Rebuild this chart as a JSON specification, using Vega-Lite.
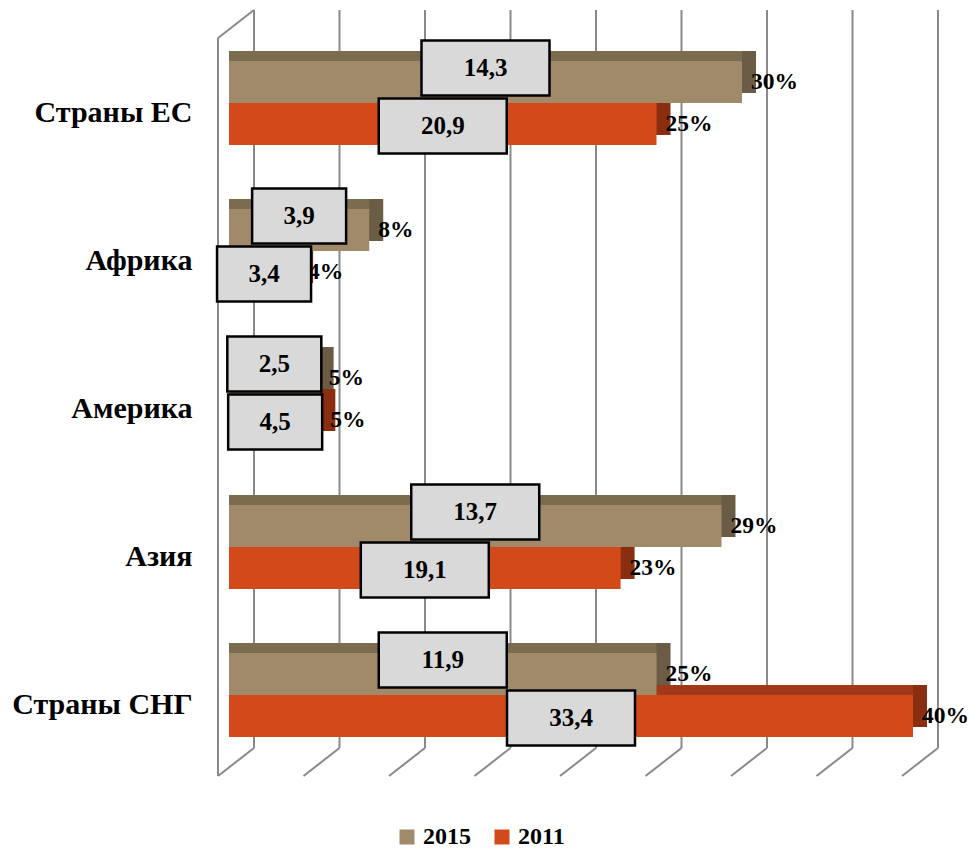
{
  "$schema": "https://vega.github.io/schema/vega-lite/v6.json",
  "width": 684,
  "height": 740,
  "autosize": {"type": "none"},
  "padding": {"left": 229, "top": 29, "right": 56, "bottom": 82},
  "background": "#ffffff",
  "config": {
    "view": {"stroke": null},
    "legend": {
      "orient": "none",
      "legendX": 166,
      "legendY": 796,
      "direction": "horizontal",
      "symbolType": "square",
      "symbolSize": 225,
      "symbolStrokeWidth": 0,
      "labelFont": "Liberation Serif",
      "labelFontWeight": "bold",
      "labelFontSize": 24,
      "labelColor": "#000000",
      "labelOffset": 4,
      "columnPadding": 19,
      "padding": 0
    }
  },
  "datasets": {
    "shares": [
      {"cat": "Страны ЕС", "series": "2015", "pct": 30.0, "pct_text": "30%", "abs": "14,3"},
      {"cat": "Страны ЕС", "series": "2011", "pct": 25.0, "pct_text": "25%", "abs": "20,9"},
      {"cat": "Африка", "series": "2015", "pct": 8.2, "pct_text": "8%", "abs": "3,9"},
      {"cat": "Африка", "series": "2011", "pct": 4.1, "pct_text": "4%", "abs": "3,4"},
      {"cat": "Америка", "series": "2015", "pct": 5.3, "pct_text": "5%", "abs": "2,5"},
      {"cat": "Америка", "series": "2011", "pct": 5.4, "pct_text": "5%", "abs": "4,5"},
      {"cat": "Азия", "series": "2015", "pct": 28.8, "pct_text": "29%", "abs": "13,7"},
      {"cat": "Азия", "series": "2011", "pct": 22.9, "pct_text": "23%", "abs": "19,1"},
      {"cat": "Страны СНГ", "series": "2015", "pct": 25.0, "pct_text": "25%", "abs": "11,9"},
      {"cat": "Страны СНГ", "series": "2011", "pct": 40.0, "pct_text": "40%", "abs": "33,4"}
    ],
    "grid": [
      {"v": 0}, {"v": 5}, {"v": 10}, {"v": 15}, {"v": 20}, {"v": 25}, {"v": 30}, {"v": 35}, {"v": 40}
    ]
  },
  "resolve": {"scale": {"x": "independent", "y": "independent", "yOffset": "independent", "color": "shared"}},
  "layer": [
    {
      "data": {"name": "grid"},
      "mark": {"type": "rule", "stroke": "#898989", "strokeWidth": 2},
      "encoding": {
        "x": {"field": "v", "type": "quantitative", "scale": {"domain": [0, 40], "range": [25, 709], "nice": false}, "axis": null},
        "y": {"datum": 0, "type": "quantitative", "scale": {"domain": [0, 1], "range": [719, -19], "nice": false}, "axis": null},
        "y2": {"datum": 1}
      }
    },
    {
      "data": {"name": "grid"},
      "mark": {"type": "point", "shape": "stroke", "angle": 322, "size": 2080, "filled": false, "stroke": "#898989", "strokeWidth": 2, "opacity": 1},
      "encoding": {
        "x": {"field": "v", "type": "quantitative", "scale": {"domain": [0, 40], "range": [7, 691], "nice": false}, "axis": null},
        "y": {"datum": 0, "type": "quantitative", "scale": {"domain": [0, 1], "range": [733, 0], "nice": false}, "axis": null}
      }
    },
    {
      "data": {"values": [{"v": 0}]},
      "mark": {"type": "rule", "stroke": "#898989", "strokeWidth": 2},
      "encoding": {
        "x": {"field": "v", "type": "quantitative", "scale": {"domain": [0, 40], "range": [-11, 673], "nice": false}, "axis": null},
        "y": {"datum": 0, "type": "quantitative", "scale": {"domain": [0, 1], "range": [747, 9], "nice": false}, "axis": null},
        "y2": {"datum": 1}
      }
    },
    {
      "data": {"values": [{"v": 0}]},
      "mark": {"type": "point", "shape": "stroke", "angle": 322, "size": 2080, "filled": false, "stroke": "#898989", "strokeWidth": 2, "opacity": 1},
      "encoding": {
        "x": {"field": "v", "type": "quantitative", "scale": {"domain": [0, 40], "range": [7, 691], "nice": false}, "axis": null},
        "y": {"datum": 0, "type": "quantitative", "scale": {"domain": [0, 1], "range": [-5, 700], "nice": false}, "axis": null}
      }
    },
    {
      "data": {"name": "shares"},
      "transform": [{"filter": "datum.series === '2011'"}],
      "mark": {"type": "bar", "color": "#8A2E12"},
      "encoding": {
        "x": {"field": "pct", "type": "quantitative", "scale": {"domain": [0, 40], "range": [14, 698], "nice": false}, "axis": null},
        "y": {"field": "cat", "type": "nominal", "scale": {"type": "band", "domain": ["Страны ЕС", "Африка", "Америка", "Азия", "Страны СНГ"], "range": [-10, 730], "paddingInner": 0.432, "paddingOuter": 0.216}, "axis": null},
        "yOffset": {"field": "series", "type": "nominal", "scale": {"type": "band", "domain": ["2015", "2011"], "range": [0, 84], "paddingInner": 0, "paddingOuter": 0}}
      }
    },
    {
      "data": {"name": "shares"},
      "transform": [{"filter": "datum.series === '2011'"}],
      "mark": {"type": "bar", "color": "#A3381A"},
      "encoding": {
        "x": {"field": "pct", "type": "quantitative", "scale": {"domain": [0, 40], "range": [0, 684], "nice": false}, "axis": null},
        "y": {"field": "cat", "type": "nominal", "scale": {"type": "band", "domain": ["Страны ЕС", "Африка", "Америка", "Азия", "Страны СНГ"], "range": [-10, 730], "paddingInner": 0.432, "paddingOuter": 0.216}, "axis": null},
        "yOffset": {"field": "series", "type": "nominal", "scale": {"type": "band", "domain": ["2015", "2011"], "range": [0, 84], "paddingInner": 0, "paddingOuter": 0}}
      }
    },
    {
      "data": {"name": "shares"},
      "transform": [{"filter": "datum.series === '2015'"}],
      "mark": {"type": "bar", "color": "#6B5D45"},
      "encoding": {
        "x": {"field": "pct", "type": "quantitative", "scale": {"domain": [0, 40], "range": [14, 698], "nice": false}, "axis": null},
        "y": {"field": "cat", "type": "nominal", "scale": {"type": "band", "domain": ["Страны ЕС", "Африка", "Америка", "Азия", "Страны СНГ"], "range": [-10, 730], "paddingInner": 0.432, "paddingOuter": 0.216}, "axis": null},
        "yOffset": {"field": "series", "type": "nominal", "scale": {"type": "band", "domain": ["2015", "2011"], "range": [0, 84], "paddingInner": 0, "paddingOuter": 0}}
      }
    },
    {
      "data": {"name": "shares"},
      "transform": [{"filter": "datum.series === '2015'"}],
      "mark": {"type": "bar", "color": "#7B6C50"},
      "encoding": {
        "x": {"field": "pct", "type": "quantitative", "scale": {"domain": [0, 40], "range": [0, 684], "nice": false}, "axis": null},
        "y": {"field": "cat", "type": "nominal", "scale": {"type": "band", "domain": ["Страны ЕС", "Африка", "Америка", "Азия", "Страны СНГ"], "range": [-10, 730], "paddingInner": 0.432, "paddingOuter": 0.216}, "axis": null},
        "yOffset": {"field": "series", "type": "nominal", "scale": {"type": "band", "domain": ["2015", "2011"], "range": [0, 84], "paddingInner": 0, "paddingOuter": 0}}
      }
    },
    {
      "data": {"name": "shares"},
      "mark": {"type": "bar"},
      "encoding": {
        "x": {"field": "pct", "type": "quantitative", "scale": {"domain": [0, 40], "range": [0, 684], "nice": false}, "axis": null},
        "y": {"field": "cat", "type": "nominal", "scale": {"type": "band", "domain": ["Страны ЕС", "Африка", "Америка", "Азия", "Страны СНГ"], "range": [0, 740], "paddingInner": 0.432, "paddingOuter": 0.216},
          "axis": {"title": null, "domain": false, "ticks": false, "grid": false, "labelFont": "Liberation Serif", "labelFontWeight": "bold", "labelFontSize": 30, "labelColor": "#000000", "labelPadding": 37, "labelOffset": 10, "labelLimit": 400}},
        "yOffset": {"field": "series", "type": "nominal", "scale": {"type": "band", "domain": ["2015", "2011"], "range": [0, 84], "paddingInner": 0, "paddingOuter": 0}},
        "color": {"field": "series", "type": "nominal", "scale": {"domain": ["2015", "2011"], "range": ["#A08A6A", "#D34A1A"]}, "legend": {"title": null}}
      }
    },
    {
      "data": {"name": "shares"},
      "mark": {"type": "text", "align": "left", "baseline": "middle", "font": "Liberation Serif", "fontWeight": "bold", "fontSize": 23.5, "color": "#000000"},
      "encoding": {
        "x": {"field": "pct", "type": "quantitative", "scale": {"domain": [0, 40], "range": [9, 693], "nice": false}, "axis": null},
        "y": {"field": "cat", "type": "nominal", "scale": {"type": "band", "domain": ["Страны ЕС", "Африка", "Америка", "Азия", "Страны СНГ"], "range": [0, 740], "paddingInner": 0.432, "paddingOuter": 0.216}, "axis": null},
        "yOffset": {"field": "series", "type": "nominal", "scale": {"type": "point", "domain": ["2015", "2011"], "range": [21, 63], "padding": 0}},
        "text": {"field": "pct_text"}
      }
    },
    {
      "data": {"name": "shares"},
      "transform": [{"filter": "length(datum.abs) > 3"}],
      "mark": {"type": "point", "shape": "M-1,-0.43L1,-0.43L1,0.43L-1,0.43Z", "size": 16384, "filled": true, "fill": "#D9D9D9", "stroke": "#000000", "strokeWidth": 2.5, "opacity": 1},
      "encoding": {
        "x": {"field": "pct", "type": "quantitative", "scale": {"domain": [0, 80], "range": [0, 684], "nice": false}, "axis": null},
        "y": {"field": "cat", "type": "nominal", "scale": {"type": "band", "domain": ["Страны ЕС", "Африка", "Америка", "Азия", "Страны СНГ"], "range": [0, 740], "paddingInner": 0.432, "paddingOuter": 0.216}, "axis": null},
        "yOffset": {"field": "series", "type": "nominal", "scale": {"type": "point", "domain": ["2015", "2011"], "range": [7, 65], "padding": 0}}
      }
    },
    {
      "data": {"name": "shares"},
      "transform": [{"filter": "length(datum.abs) <= 3"}],
      "mark": {"type": "point", "shape": "M-1,-0.585L1,-0.585L1,0.585L-1,0.585Z", "size": 8836, "filled": true, "fill": "#D9D9D9", "stroke": "#000000", "strokeWidth": 2.5, "opacity": 1},
      "encoding": {
        "x": {"field": "pct", "type": "quantitative", "scale": {"domain": [0, 80], "range": [0, 684], "nice": false}, "axis": null},
        "y": {"field": "cat", "type": "nominal", "scale": {"type": "band", "domain": ["Страны ЕС", "Африка", "Америка", "Азия", "Страны СНГ"], "range": [0, 740], "paddingInner": 0.432, "paddingOuter": 0.216}, "axis": null},
        "yOffset": {"field": "series", "type": "nominal", "scale": {"type": "point", "domain": ["2015", "2011"], "range": [7, 65], "padding": 0}}
      }
    },
    {
      "data": {"name": "shares"},
      "mark": {"type": "text", "align": "center", "baseline": "middle", "font": "Liberation Serif", "fontWeight": "bold", "fontSize": 25, "color": "#000000"},
      "encoding": {
        "x": {"field": "pct", "type": "quantitative", "scale": {"domain": [0, 80], "range": [0, 684], "nice": false}, "axis": null},
        "y": {"field": "cat", "type": "nominal", "scale": {"type": "band", "domain": ["Страны ЕС", "Африка", "Америка", "Азия", "Страны СНГ"], "range": [0, 740], "paddingInner": 0.432, "paddingOuter": 0.216}, "axis": null},
        "yOffset": {"field": "series", "type": "nominal", "scale": {"type": "point", "domain": ["2015", "2011"], "range": [7, 65], "padding": 0}},
        "text": {"field": "abs"}
      }
    }
  ]
}
